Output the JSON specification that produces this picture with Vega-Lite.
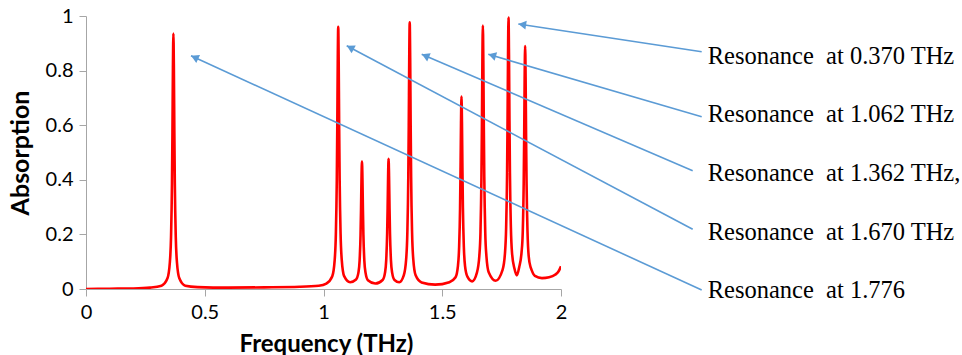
{
  "$schema": "https://vega.github.io/schema/vega-lite/v6.json",
  "width": 475,
  "height": 273,
  "autosize": {"type": "none"},
  "padding": {"left": 86, "top": 16, "right": 401, "bottom": 66},
  "background": "white",
  "config": {"view": {"stroke": null}},
  "datasets": {
    "spectrum": [
      {"f": 0.0, "a": 0.0}, {"f": 0.1, "a": 0.001}, {"f": 0.2, "a": 0.002}, {"f": 0.27, "a": 0.005},
      {"f": 0.318, "a": 0.012}, {"f": 0.343, "a": 0.039}, {"f": 0.353, "a": 0.097}, {"f": 0.358, "a": 0.19},
      {"f": 0.362, "a": 0.387}, {"f": 0.364, "a": 0.574}, {"f": 0.366, "a": 0.81}, {"f": 0.368, "a": 0.936},
      {"f": 0.37, "a": 0.81}, {"f": 0.372, "a": 0.574}, {"f": 0.374, "a": 0.387}, {"f": 0.378, "a": 0.19},
      {"f": 0.383, "a": 0.097}, {"f": 0.393, "a": 0.039}, {"f": 0.418, "a": 0.012}, {"f": 0.47, "a": 0.007},
      {"f": 0.6, "a": 0.005}, {"f": 0.75, "a": 0.006}, {"f": 0.9, "a": 0.008}, {"f": 0.98, "a": 0.012},
      {"f": 1.012, "a": 0.02}, {"f": 1.037, "a": 0.047}, {"f": 1.047, "a": 0.105}, {"f": 1.052, "a": 0.2},
      {"f": 1.056, "a": 0.4}, {"f": 1.058, "a": 0.59}, {"f": 1.06, "a": 0.829}, {"f": 1.062, "a": 0.96},
      {"f": 1.064, "a": 0.829}, {"f": 1.066, "a": 0.59}, {"f": 1.068, "a": 0.4}, {"f": 1.072, "a": 0.2},
      {"f": 1.077, "a": 0.105}, {"f": 1.087, "a": 0.047}, {"f": 1.112, "a": 0.025},
      {"f": 1.137, "a": 0.035}, {"f": 1.147, "a": 0.06}, {"f": 1.152, "a": 0.103}, {"f": 1.156, "a": 0.199},
      {"f": 1.158, "a": 0.29}, {"f": 1.16, "a": 0.404}, {"f": 1.162, "a": 0.467}, {"f": 1.164, "a": 0.404},
      {"f": 1.166, "a": 0.29}, {"f": 1.168, "a": 0.199}, {"f": 1.172, "a": 0.103}, {"f": 1.177, "a": 0.06},
      {"f": 1.187, "a": 0.032}, {"f": 1.218, "a": 0.02},
      {"f": 1.249, "a": 0.033}, {"f": 1.259, "a": 0.06}, {"f": 1.264, "a": 0.105}, {"f": 1.268, "a": 0.203},
      {"f": 1.27, "a": 0.296}, {"f": 1.272, "a": 0.413}, {"f": 1.274, "a": 0.477}, {"f": 1.276, "a": 0.413},
      {"f": 1.278, "a": 0.296}, {"f": 1.28, "a": 0.203}, {"f": 1.284, "a": 0.105}, {"f": 1.289, "a": 0.06},
      {"f": 1.299, "a": 0.033}, {"f": 1.319, "a": 0.025},
      {"f": 1.338, "a": 0.05}, {"f": 1.348, "a": 0.109}, {"f": 1.353, "a": 0.205}, {"f": 1.357, "a": 0.408},
      {"f": 1.359, "a": 0.601}, {"f": 1.361, "a": 0.844}, {"f": 1.363, "a": 0.977}, {"f": 1.365, "a": 0.844},
      {"f": 1.367, "a": 0.601}, {"f": 1.369, "a": 0.408}, {"f": 1.373, "a": 0.205}, {"f": 1.378, "a": 0.109},
      {"f": 1.388, "a": 0.05}, {"f": 1.413, "a": 0.024}, {"f": 1.47, "a": 0.016}, {"f": 1.53, "a": 0.025},
      {"f": 1.556, "a": 0.043}, {"f": 1.566, "a": 0.084}, {"f": 1.571, "a": 0.153}, {"f": 1.575, "a": 0.298},
      {"f": 1.577, "a": 0.436}, {"f": 1.579, "a": 0.61}, {"f": 1.581, "a": 0.705}, {"f": 1.583, "a": 0.61},
      {"f": 1.585, "a": 0.436}, {"f": 1.587, "a": 0.298}, {"f": 1.591, "a": 0.153}, {"f": 1.596, "a": 0.084},
      {"f": 1.606, "a": 0.045}, {"f": 1.626, "a": 0.028},
      {"f": 1.646, "a": 0.06}, {"f": 1.656, "a": 0.12}, {"f": 1.661, "a": 0.21}, {"f": 1.665, "a": 0.41},
      {"f": 1.667, "a": 0.596}, {"f": 1.669, "a": 0.835}, {"f": 1.671, "a": 0.965}, {"f": 1.673, "a": 0.835},
      {"f": 1.675, "a": 0.596}, {"f": 1.677, "a": 0.41}, {"f": 1.681, "a": 0.21}, {"f": 1.686, "a": 0.12},
      {"f": 1.696, "a": 0.06}, {"f": 1.725, "a": 0.03},
      {"f": 1.754, "a": 0.07}, {"f": 1.764, "a": 0.13}, {"f": 1.769, "a": 0.225}, {"f": 1.773, "a": 0.425},
      {"f": 1.775, "a": 0.618}, {"f": 1.777, "a": 0.86}, {"f": 1.779, "a": 0.994}, {"f": 1.781, "a": 0.86},
      {"f": 1.783, "a": 0.618}, {"f": 1.785, "a": 0.425}, {"f": 1.789, "a": 0.225}, {"f": 1.794, "a": 0.13},
      {"f": 1.804, "a": 0.075}, {"f": 1.814, "a": 0.05},
      {"f": 1.824, "a": 0.08}, {"f": 1.834, "a": 0.135}, {"f": 1.839, "a": 0.21}, {"f": 1.843, "a": 0.39},
      {"f": 1.845, "a": 0.558}, {"f": 1.847, "a": 0.773}, {"f": 1.849, "a": 0.89}, {"f": 1.851, "a": 0.773},
      {"f": 1.853, "a": 0.558}, {"f": 1.855, "a": 0.39}, {"f": 1.859, "a": 0.21}, {"f": 1.864, "a": 0.12},
      {"f": 1.872, "a": 0.08}, {"f": 1.876, "a": 0.07}, {"f": 1.89, "a": 0.048}, {"f": 1.92, "a": 0.04},
      {"f": 1.95, "a": 0.043}, {"f": 1.975, "a": 0.052}, {"f": 1.99, "a": 0.065}, {"f": 2.0, "a": 0.083}
    ],
    "arrows": [
      {"x1": 2.5924, "y1": 0.8692, "x2": 1.8202, "y2": 0.9707, "hx": 1.8368, "hy": 0.9685, "dir": 278.6},
      {"x1": 2.5924, "y1": 0.6311, "x2": 1.6939, "y2": 0.8597, "hx": 1.7101, "hy": 0.8556, "dir": 286.3},
      {"x1": 2.5545, "y1": 0.4333, "x2": 1.4135, "y2": 0.8597, "hx": 1.429, "hy": 0.8539, "dir": 293.2},
      {"x1": 2.5545, "y1": 0.2187, "x2": 1.0977, "y2": 0.8912, "hx": 1.1126, "hy": 0.8844, "dir": 297.9},
      {"x1": 2.5924, "y1": -0.0037, "x2": 0.4421, "y2": 0.8546, "hx": 0.4574, "hy": 0.8485, "dir": 294.6}
    ],
    "labels": [
      {"x": 2.6177, "y": 0.8242, "text": "Resonance\u00a0 at 0.370 THz"},
      {"x": 2.6177, "y": 0.6099, "text": "Resonance\u00a0 at 1.062 THz"},
      {"x": 2.6177, "y": 0.3956, "text": "Resonance\u00a0 at 1.362 THz,"},
      {"x": 2.6177, "y": 0.1813, "text": "Resonance\u00a0 at 1.670 THz"},
      {"x": 2.6177, "y": -0.033, "text": "Resonance\u00a0 at 1.776"}
    ]
  },
  "layer": [
    {
      "data": {"name": "spectrum"},
      "mark": {"type": "line", "color": "#ff0000", "strokeWidth": 2.6, "interpolate": "monotone", "clip": true},
      "encoding": {
        "x": {
          "field": "f", "type": "quantitative",
          "scale": {"domain": [0, 2], "nice": false, "zero": false},
          "axis": {
            "title": "Frequency (THz)", "values": [0, 0.5, 1, 1.5, 2], "format": "~g", "grid": false,
            "domainColor": "#a6a6a6", "tickColor": "#a6a6a6", "tickSize": 7, "domainWidth": 1,
            "labelFont": "Lato", "labelFontSize": 20, "labelColor": "#000000", "labelPadding": 6,
            "labelFlush": false, "labelOverlap": false,
            "titleFont": "Lato", "titleFontSize": 24, "titleFontWeight": "bold", "titleColor": "#000000",
            "titleX": 240, "titleY": 62, "titleBaseline": "alphabetic", "titleAlign": "center"
          }
        },
        "y": {
          "field": "a", "type": "quantitative",
          "scale": {"domain": [0, 1], "nice": false},
          "axis": {
            "title": "Absorption", "values": [0, 0.2, 0.4, 0.6, 0.8, 1], "format": "~g", "grid": false,
            "domainColor": "#a6a6a6", "tickColor": "#a6a6a6", "tickSize": 7, "domainWidth": 1,
            "labelFont": "Lato", "labelFontSize": 20, "labelColor": "#000000", "labelPadding": 6,
            "labelFlush": false, "labelOverlap": false,
            "titleFont": "Lato", "titleFontSize": 25, "titleFontWeight": "bold", "titleColor": "#000000",
            "titleX": -66, "titleY": 136.5, "titleAngle": -90, "titleBaseline": "middle", "titleAlign": "center"
          }
        }
      }
    },
    {
      "mark": {"type": "rule", "color": "#9dbbe3", "strokeWidth": 1.5},
      "encoding": {"y": {"datum": 1, "type": "quantitative", "scale": {"domain": [0, 1], "nice": false}}}
    },
    {
      "mark": {"type": "rule", "color": "#9dbbe3", "strokeWidth": 1.5},
      "encoding": {"x": {"datum": 2, "type": "quantitative", "scale": {"domain": [0, 2], "nice": false, "zero": false}}}
    },
    {
      "data": {"name": "arrows"},
      "mark": {"type": "rule", "color": "#5b9bd5", "strokeWidth": 1.6, "clip": false},
      "encoding": {
        "x": {"field": "x1", "type": "quantitative", "scale": {"domain": [0, 2], "nice": false, "zero": false}},
        "y": {"field": "y1", "type": "quantitative", "scale": {"domain": [0, 1], "nice": false}},
        "x2": {"field": "x2"},
        "y2": {"field": "y2"}
      }
    },
    {
      "data": {"name": "arrows"},
      "mark": {"type": "point", "shape": "triangle-up", "filled": true, "color": "#5b9bd5", "size": 80, "opacity": 1, "clip": false},
      "encoding": {
        "x": {"field": "hx", "type": "quantitative", "scale": {"domain": [0, 2], "nice": false, "zero": false}},
        "y": {"field": "hy", "type": "quantitative", "scale": {"domain": [0, 1], "nice": false}},
        "angle": {"field": "dir", "type": "quantitative", "scale": null}
      }
    },
    {
      "data": {"name": "labels"},
      "mark": {"type": "text", "font": "Liberation Serif", "fontSize": 24.5, "align": "left", "baseline": "alphabetic", "color": "#000000", "clip": false},
      "encoding": {
        "x": {"field": "x", "type": "quantitative", "scale": {"domain": [0, 2], "nice": false, "zero": false}},
        "y": {"field": "y", "type": "quantitative", "scale": {"domain": [0, 1], "nice": false}},
        "text": {"field": "text"}
      }
    }
  ]
}
